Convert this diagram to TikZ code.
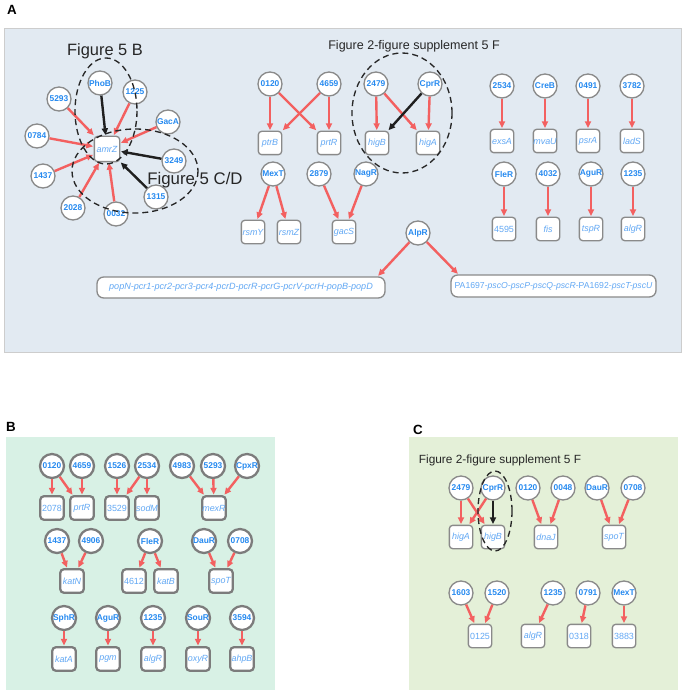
\documentclass[tikz,border=0pt]{standalone}
\usepackage{fontspec}
\setmainfont{Liberation Sans}
\usetikzlibrary{arrows.meta}

\definecolor{tfblue}{RGB}{38,138,240}
\definecolor{geneblue}{RGB}{98,168,244}
\definecolor{regred}{RGB}{243,96,96}
\definecolor{ringgray}{RGB}{138,138,138}
\definecolor{panelA}{RGB}{226,234,242}
\definecolor{panelB}{RGB}{216,241,229}
\definecolor{panelC}{RGB}{228,240,216}
\definecolor{panelline}{RGB}{205,205,205}

\tikzset{every picture/.style={line width=0.75pt},
	tf/.style={circle, draw=ringgray, fill=white, line width=1pt, minimum size=18pt, inner sep=0pt, text=tfblue, font=\fontsize{6.3}{7}\selectfont\bfseries},
	gene/.style={rectangle, rounded corners=2.5pt, draw=ringgray, fill=white, line width=1pt, minimum size=17.5pt, inner sep=0pt, text=geneblue, font=\fontsize{6.7}{7}\selectfont\itshape},
	genenum/.style={gene, font=\fontsize{6.7}{7}\selectfont\upshape},
	heavy/.style={line width=1.7pt, draw=ringgray!90!black},
	operon/.style={rectangle, rounded corners=5pt, draw=ringgray, fill=white, line width=1pt, inner sep=0pt, text=geneblue, font=\fontsize{6.8}{7}\selectfont\itshape},
	act/.style={draw=regred, line width=1.8pt, -{Triangle[length=5pt,width=4.5pt]}, shorten >=0.5pt},
	rep/.style={act, draw=black!88},
	fig/.style={draw=black!85, line width=1pt, dash pattern=on 4.5pt off 3pt},
	figlabel/.style={text=black!85, inner sep=0pt},
	panel/.style={inner sep=0pt, font=\fontsize{10}{12}\selectfont\bfseries}
}

\begin{document}
\begin{tikzpicture}[x=0.75pt,y=0.75pt,yscale=-1,xscale=1]
	\useasboundingbox (0,0) rectangle (684,695);

	%Shape: Rectangle [panel A]
	\draw [draw=panelline, fill=panelA] (4,29) rectangle (681,352);
	%Shape: Rectangle [panel B]
	\fill [panelB] (6,437) rectangle (275,690);
	%Shape: Rectangle [panel C]
	\fill [panelC] (409,437) rectangle (678,690);

	% Text Node
	\node [panel] (labA) at (12,10) {A};
	% Text Node
	\node [panel] (labB) at (11,427) {B};
	% Text Node
	\node [panel] (labC) at (418,430) {C};

	%%%% Panel A, amrZ cluster
	\node [tf] (aPhoB) at (100,83) {PhoB};
	\node [tf] (a1225) at (135,92) {1225};
	\node [tf] (a5293) at (59,99) {5293};
	\node [tf] (aGacA) at (168,122) {GacA};
	\node [tf] (a0784) at (37,136) {0784};
	\node [gene, minimum size=19pt] (aamrZ) at (107,149) {amrZ};
	\node [tf] (a3249) at (174,161) {3249};
	\node [tf] (a1437) at (43,176) {1437};
	\node [tf] (a1315) at (156,197) {1315};
	\node [tf] (a2028) at (73,208) {2028};
	\node [tf] (a0032) at (116,214) {0032};
	\draw [act] (a5293) -- (aamrZ);
	\draw [act] (a1225) -- (aamrZ);
	\draw [act] (aGacA) -- (aamrZ);
	\draw [act] (a0784) -- (aamrZ);
	\draw [act] (a1437) -- (aamrZ);
	\draw [act] (a2028) -- (aamrZ);
	\draw [act] (a0032) -- (aamrZ);
	\draw [rep] (aPhoB) -- (aamrZ);
	\draw [rep] (a3249) -- (aamrZ);
	\draw [rep] (a1315) -- (aamrZ);

	%%%% Panel A, middle
	\node [tf] (a0120) at (270,84) {0120};
	\node [tf] (a4659) at (329,84) {4659};
	\node [tf] (a2479) at (376,84) {2479};
	\node [tf] (aCprR) at (430,84) {CprR};
	\node [gene] (aptrB) at (270,143) {ptrB};
	\node [gene] (aprtR) at (329,143) {prtR};
	\node [gene] (ahigB) at (377,143) {higB};
	\node [gene] (ahigA) at (428,143) {higA};
	\node [tf] (aMexT) at (273,174) {MexT};
	\node [tf] (a2879) at (319,174) {2879};
	\node [tf] (aNagR) at (366,174) {NagR};
	\node [gene] (arsmY) at (253,232) {rsmY};
	\node [gene] (arsmZ) at (289,232) {rsmZ};
	\node [gene] (agacS) at (344,232) {gacS};
	\node [tf] (aAlpR) at (418,233) {AlpR};
	\draw [act] (a0120) -- (aptrB);
	\draw [act] (a0120) -- (aprtR);
	\draw [act] (a4659) -- (aptrB);
	\draw [act] (a4659) -- (aprtR);
	\draw [act] (a2479) -- (ahigB);
	\draw [act] (a2479) -- (ahigA);
	\draw [act] (aCprR) -- (ahigA);
	\draw [rep] (aCprR) -- (ahigB);
	\draw [act] (aMexT) -- (arsmY);
	\draw [act] (aMexT) -- (arsmZ);
	\draw [act] (a2879) -- (agacS);
	\draw [act] (aNagR) -- (agacS);

	%%%% Panel A, right
	\node [tf] (a2534) at (502,86) {2534};
	\node [tf] (aCreB) at (545,86) {CreB};
	\node [tf] (a0491) at (588,86) {0491};
	\node [tf] (a3782) at (632,86) {3782};
	\node [gene] (aexsA) at (502,141) {exsA};
	\node [gene] (amvaU) at (545,141) {mvaU};
	\node [gene] (apsrA) at (588,141) {psrA};
	\node [gene] (aladS) at (632,141) {ladS};
	\node [tf] (aFleR) at (504,174) {FleR};
	\node [tf] (a4032) at (548,174) {4032};
	\node [tf] (aAguR) at (591,174) {AguR};
	\node [tf] (a1235) at (633,174) {1235};
	\node [genenum] (a4595) at (504,229) {4595};
	\node [gene] (afis) at (548,229) {fis};
	\node [gene] (atspR) at (591,229) {tspR};
	\node [gene] (aalgR) at (633,229) {algR};
	\draw [act] (a2534) -- (aexsA);
	\draw [act] (aCreB) -- (amvaU);
	\draw [act] (a0491) -- (apsrA);
	\draw [act] (a3782) -- (aladS);
	\draw [act] (aFleR) -- (a4595);
	\draw [act] (a4032) -- (afis);
	\draw [act] (aAguR) -- (atspR);
	\draw [act] (a1235) -- (aalgR);

	%%%% Panel A, operons
	\node [operon, minimum width=216pt, minimum height=15.75pt] (opL) at (241,287.5) {popN-pcr1-pcr2-pcr3-pcr4-pcrD-pcrR-pcrG-pcrV-pcrH-popB-popD};
	\node [operon, minimum width=153.75pt, minimum height=16.5pt, font=\fontsize{6.5}{7}\selectfont] (opR) at (553.5,286) {PA1697-\textit{pscO-pscP-pscQ-pscR}-PA1692-\textit{pscT-pscU}};
	\draw [act] (aAlpR) -- ([xshift=-6pt]opL.north east);
	\draw [act] (aAlpR) -- ([xshift=6pt]opR.north west);

	%Shape: Ellipse [Figure 5 B]
	\draw [fig] (106,111) ellipse [x radius=31, y radius=53];
	%Shape: Ellipse [Figure 5 C/D]
	\draw [fig] (135,171) ellipse [x radius=63, y radius=42];
	%Shape: Ellipse [supplement 5 F]
	\draw [fig] (402,113) ellipse [x radius=50, y radius=60];

	% Text Node
	\node [figlabel, font=\fontsize{12.3}{14}\selectfont] (t5B) at (105,51) {Figure 5 B};
	% Text Node
	\node [figlabel, font=\fontsize{12.6}{14}\selectfont] (t5CD) at (195,180) {Figure 5 C/D};
	% Text Node
	\node [figlabel, font=\fontsize{9.4}{11}\selectfont] (t5FA) at (414,46) {Figure 2-figure supplement 5 F};

	%%%% Panel B
	\node [tf, heavy] (b0120) at (52,466) {0120};
	\node [tf, heavy] (b4659) at (82,466) {4659};
	\node [tf, heavy] (b1526) at (117,466) {1526};
	\node [tf, heavy] (b2534) at (147,466) {2534};
	\node [tf, heavy] (b4983) at (182,466) {4983};
	\node [tf, heavy] (b5293) at (213,466) {5293};
	\node [tf, heavy] (bCpxR) at (247,466) {CpxR};
	\node [genenum, heavy] (b2078) at (52,508) {2078};
	\node [gene, heavy] (bprtR) at (82,508) {prtR};
	\node [genenum, heavy] (b3529) at (117,508) {3529};
	\node [gene, heavy] (bsodM) at (147,508) {sodM};
	\node [gene, heavy] (bmexR) at (214,508) {mexR};
	\node [tf, heavy] (b1437) at (57,541) {1437};
	\node [tf, heavy] (b4906) at (91,541) {4906};
	\node [tf, heavy] (bFleR) at (150,541) {FleR};
	\node [tf, heavy] (bDauR) at (204,541) {DauR};
	\node [tf, heavy] (b0708) at (240,541) {0708};
	\node [gene, heavy] (bkatN) at (72,581) {katN};
	\node [genenum, heavy] (b4612) at (134,581) {4612};
	\node [gene, heavy] (bkatB) at (166,581) {katB};
	\node [gene, heavy] (bspoT) at (221,581) {spoT};
	\node [tf, heavy] (bSphR) at (64,618) {SphR};
	\node [tf, heavy] (bAguR) at (108,618) {AguR};
	\node [tf, heavy] (b1235) at (153,618) {1235};
	\node [tf, heavy] (bSouR) at (198,618) {SouR};
	\node [tf, heavy] (b3594) at (242,618) {3594};
	\node [gene, heavy] (bkatA) at (64,659) {katA};
	\node [gene, heavy] (bpgm) at (108,659) {pgm};
	\node [gene, heavy] (balgR) at (153,659) {algR};
	\node [gene, heavy] (boxyR) at (198,659) {oxyR};
	\node [gene, heavy] (bahpB) at (242,659) {ahpB};
	\draw [act] (b0120) -- (b2078);
	\draw [act] (b0120) -- (bprtR);
	\draw [act] (b4659) -- (bprtR);
	\draw [act] (b1526) -- (b3529);
	\draw [act] (b2534) -- (b3529);
	\draw [act] (b2534) -- (bsodM);
	\draw [act] (b4983) -- (bmexR);
	\draw [act] (b5293) -- (bmexR);
	\draw [act] (bCpxR) -- (bmexR);
	\draw [act] (b1437) -- (bkatN);
	\draw [act] (b4906) -- (bkatN);
	\draw [act] (bFleR) -- (b4612);
	\draw [act] (bFleR) -- (bkatB);
	\draw [act] (bDauR) -- (bspoT);
	\draw [act] (b0708) -- (bspoT);
	\draw [act] (bSphR) -- (bkatA);
	\draw [act] (bAguR) -- (bpgm);
	\draw [act] (b1235) -- (balgR);
	\draw [act] (bSouR) -- (boxyR);
	\draw [act] (b3594) -- (bahpB);

	%%%% Panel C
	\node [tf] (c2479) at (461,488) {2479};
	\node [tf] (cCprR) at (493,488) {CprR};
	\node [tf] (c0120) at (528,488) {0120};
	\node [tf] (c0048) at (563,488) {0048};
	\node [tf] (cDauR) at (597,488) {DauR};
	\node [tf] (c0708) at (633,488) {0708};
	\node [gene] (chigA) at (461,537) {higA};
	\node [gene] (chigB) at (493,537) {higB};
	\node [gene] (cdnaJ) at (546,537) {dnaJ};
	\node [gene] (cspoT) at (614,537) {spoT};
	\node [tf] (c1603) at (461,593) {1603};
	\node [tf] (c1520) at (497,593) {1520};
	\node [tf] (c1235) at (553,593) {1235};
	\node [tf] (c0791) at (588,593) {0791};
	\node [tf] (cMexT) at (624,593) {MexT};
	\node [genenum] (c0125) at (480,636) {0125};
	\node [gene] (calgR) at (533,636) {algR};
	\node [genenum] (c0318) at (579,636) {0318};
	\node [genenum] (c3883) at (624,636) {3883};
	\draw [act] (c2479) -- (chigA);
	\draw [act] (c2479) -- (chigB);
	\draw [act] (cCprR) -- (chigA);
	\draw [rep] (cCprR) -- (chigB);
	\draw [act] (c0120) -- (cdnaJ);
	\draw [act] (c0048) -- (cdnaJ);
	\draw [act] (cDauR) -- (cspoT);
	\draw [act] (c0708) -- (cspoT);
	\draw [act] (c1603) -- (c0125);
	\draw [act] (c1520) -- (c0125);
	\draw [act] (c1235) -- (calgR);
	\draw [act] (c0791) -- (c0318);
	\draw [act] (cMexT) -- (c3883);

	%Shape: Ellipse [supplement 5 F, panel C]
	\draw [fig] (495,511) ellipse [x radius=17, y radius=40];
	% Text Node
	\node [figlabel, font=\fontsize{8.9}{11}\selectfont] (t5FC) at (500,460) {Figure 2-figure supplement 5 F};
\end{tikzpicture}
\end{document}
